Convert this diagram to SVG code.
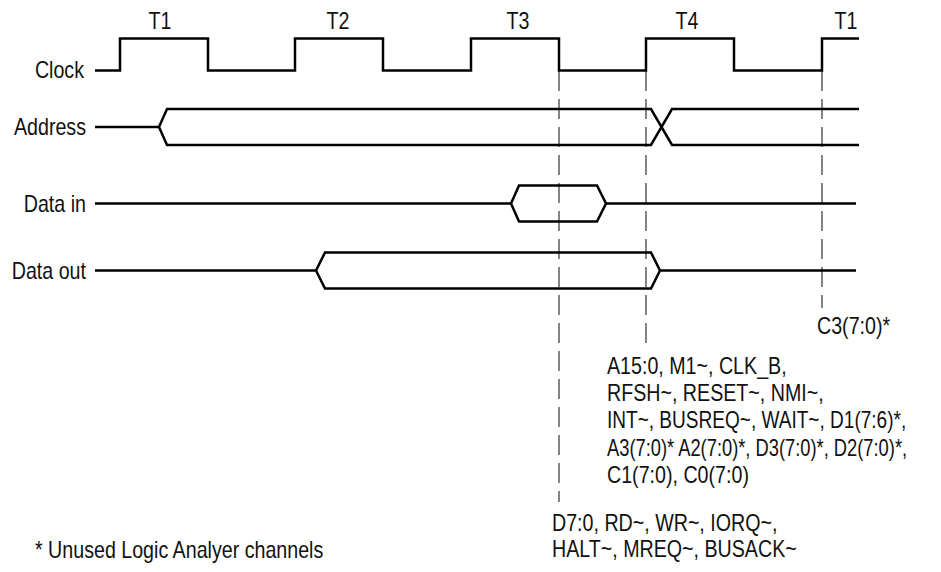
<svg xmlns="http://www.w3.org/2000/svg" width="941" height="572" viewBox="0 0 941 572">
<style>
.sig{fill:none;stroke:#000;stroke-width:2.5;stroke-linejoin:miter;stroke-linecap:butt}
.dash{fill:none;stroke:#333;stroke-width:1.2;stroke-dasharray:20 8}
text{font-family:"Liberation Sans",Arial,sans-serif;font-size:23px;fill:#111}
.lbl{text-anchor:end}
.mid{text-anchor:middle}
</style>
<rect width="941" height="572" fill="#fff"/>
<g id="connectors">
<line class="dash" x1="559" y1="71" x2="559" y2="502"/>
<line class="dash" x1="646" y1="71" x2="646" y2="345"/>
<line class="dash" x1="822" y1="71" x2="822" y2="308"/>
</g>
<g id="clock">
<text class="lbl" transform="translate(84 78) scale(0.855 1)">Clock</text>
<path class="sig" d="M95,70.5 H120 V38.5 H208 V70.5 H295 V38.5 H383 V70.5 H471 V38.5 H559 V70.5 H646 V38.5 H734 V70.5 H822 V38.5 H859"/>
<text class="mid" transform="translate(160 29) scale(0.855 1)">T1</text>
<text class="mid" transform="translate(338 29) scale(0.855 1)">T2</text>
<text class="mid" transform="translate(518 29) scale(0.855 1)">T3</text>
<text class="mid" transform="translate(687 29) scale(0.855 1)">T4</text>
<text class="mid" transform="translate(846 29) scale(0.855 1)">T1</text>
</g>
<g id="address">
<text class="lbl" transform="translate(86 135) scale(0.855 1)">Address</text>
<path class="sig" d="M95,127 H159 L167,109 H651 L672,145 H859 M859,109 H672 L651,145 H167 L159,127"/>
</g>
<g id="data-in">
<text class="lbl" transform="translate(86 212) scale(0.855 1)">Data in</text>
<path class="sig" d="M95,203.5 H511 L519,185.5 H597 L606,203.5 L597,221.5 H519 L511,203.5 M606,203.5 H856"/>
</g>
<g id="data-out">
<text class="lbl" transform="translate(86 278.5) scale(0.855 1)">Data out</text>
<path class="sig" d="M95,270.5 H316 L325,252.5 H651 L660,270.5 L651,288.5 H325 L316,270.5 M660,270.5 H856"/>
</g>
<g id="note-c3">
<text transform="translate(817 334) scale(0.855 1)">C3(7:0)*</text>
</g>
<g id="note-t4">
<text transform="translate(607 374) scale(0.855 1)"><tspan x="0" y="0">A15:0, M1~, CLK_B,</tspan><tspan x="0" y="27.25">RFSH~, RESET~, NMI~,</tspan><tspan x="0" y="54.5" textLength="350" lengthAdjust="spacingAndGlyphs">INT~, BUSREQ~, WAIT~, D1(7:6)*,</tspan><tspan x="0" y="81.75" textLength="351" lengthAdjust="spacingAndGlyphs">A3(7:0)* A2(7:0)*, D3(7:0)*, D2(7:0)*,</tspan><tspan x="0" y="109">C1(7:0), C0(7:0)</tspan></text>
</g>
<g id="note-t3">
<text transform="translate(552 531) scale(0.855 1)"><tspan x="0" y="0">D7:0, RD~, WR~, IORQ~,</tspan><tspan x="0" y="26.5">HALT~, MREQ~, BUSACK~</tspan></text>
</g>
<g id="footnote">
<text transform="translate(35 558) scale(0.855 1)">* Unused Logic Analyer channels</text>
</g>
</svg>
